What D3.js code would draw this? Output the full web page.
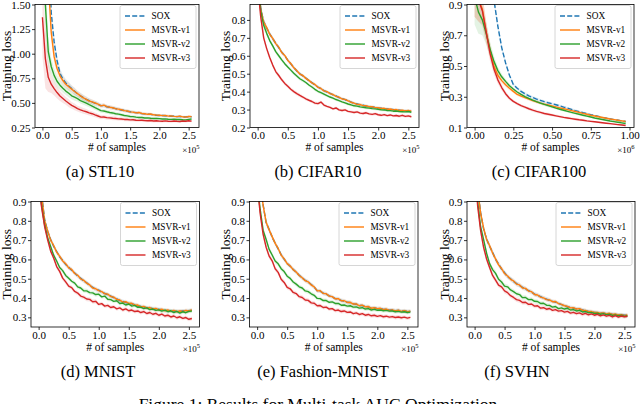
<!DOCTYPE html>
<html><head><meta charset="utf-8">
<script src="https://cdn.jsdelivr.net/npm/d3@7"></script>
<style>html,body{margin:0;padding:0;background:#fff;} svg{display:block;font-family:"Liberation Serif","Times New Roman",serif;}</style>
</head><body><svg id="chart" width="640" height="404"></svg>
<script>
// ---------------- DATA ----------------
const seriesNames = ["SOX", "MSVR-v1", "MSVR-v2", "MSVR-v3"];
const samplesE5 = [0,0.05,0.1,0.15,0.2,0.25,0.3,0.35,0.4,0.45,0.5,0.55,0.6,0.65,0.7,0.75,0.8,0.85,0.9,0.95,1,1.05,1.1,1.15,1.2,1.25,1.3,1.35,1.4,1.45,1.5,1.55,1.6,1.65,1.7,1.75,1.8,1.85,1.9,1.95,2,2.05,2.1,2.15,2.2,2.25,2.3,2.35,2.4,2.45,2.5,2.55];
const samplesE6 = [0,0.025,0.05,0.075,0.1,0.125,0.15,0.175,0.2,0.225,0.25,0.275,0.3,0.325,0.35,0.375,0.4,0.425,0.45,0.475,0.5,0.525,0.55,0.575,0.6,0.625,0.65,0.675,0.7,0.725,0.75,0.775,0.8,0.825,0.85,0.875,0.9,0.925,0.95,0.975];
const xTicksE5 = [0, 0.5, 1, 1.5, 2, 2.5];
const xTicksE6 = [0, 0.25, 0.5, 0.75, 1];
const yTicksStl10 = [0.25, 0.5, 0.75, 1, 1.25, 1.5];
const yTicksCifar10 = [0.2, 0.3, 0.4, 0.5, 0.6, 0.7, 0.8];
const yTicksCifar100 = [0.1, 0.3, 0.5, 0.7, 0.9];
const yTicksBottom = [0.3, 0.4, 0.5, 0.6, 0.7, 0.8, 0.9];
const captions = ["(a) STL10", "(b) CIFAR10", "(c) CIFAR100", "(d) MNIST", "(e) Fashion-MNIST", "(f) SVHN"];

// STL10
const stl10Sox = [3.2,2.8,2.2,1.42,1.12,0.93,0.8,0.742,0.702,0.672,0.645,0.618,0.592,0.572,0.553,0.535,0.522,0.508,0.497,0.486,0.472,0.473,0.461,0.456,0.449,0.442,0.435,0.428,0.423,0.415,0.41,0.404,0.401,0.398,0.391,0.388,0.386,0.383,0.378,0.374,0.372,0.372,0.369,0.367,0.365,0.364,0.361,0.362,0.357,0.358,0.36,0.358];
const stl10V1 = [3.0,2.4,1.75,1.22,0.97,0.85,0.775,0.727,0.69,0.664,0.64,0.616,0.594,0.571,0.551,0.536,0.519,0.511,0.499,0.488,0.47,0.477,0.462,0.456,0.451,0.441,0.437,0.43,0.421,0.418,0.409,0.406,0.399,0.402,0.393,0.39,0.384,0.387,0.379,0.376,0.374,0.371,0.373,0.366,0.368,0.363,0.36,0.365,0.358,0.356,0.362,0.36];
const stl10V2 = [2.6,1.5,1.02,0.87,0.78,0.72,0.68,0.648,0.62,0.598,0.572,0.558,0.543,0.524,0.511,0.497,0.482,0.468,0.452,0.437,0.421,0.418,0.41,0.403,0.398,0.39,0.386,0.379,0.372,0.368,0.362,0.361,0.356,0.352,0.351,0.347,0.348,0.344,0.341,0.343,0.34,0.337,0.338,0.334,0.333,0.335,0.331,0.332,0.329,0.327,0.333,0.336];
const stl10V3 = [1.37,0.95,0.76,0.69,0.645,0.605,0.57,0.545,0.52,0.497,0.475,0.46,0.442,0.43,0.419,0.41,0.398,0.39,0.378,0.367,0.355,0.357,0.35,0.348,0.344,0.342,0.338,0.336,0.332,0.331,0.327,0.329,0.324,0.322,0.324,0.32,0.318,0.321,0.316,0.318,0.315,0.313,0.317,0.314,0.312,0.316,0.313,0.311,0.316,0.314,0.318,0.315];
const spreadStl10 = [0.4,0.3,0.15,0.09,0.07,0.06,0.05,0.045,0.04,0.04,0.035,0.035,0.03,0.03,0.03,0.028,0.026,0.025,0.024,0.022,0.02,0.02,0.02,0.02,0.02,0.019,0.019,0.018,0.018,0.018,0.017,0.017,0.016,0.016,0.016,0.015,0.015,0.015,0.014,0.014,0.014,0.013,0.013,0.013,0.013,0.012,0.012,0.012,0.012,0.012,0.012,0.012];

// CIFAR10
const cifar10Sox = [1.12,0.865,0.79,0.755,0.722,0.695,0.67,0.645,0.62,0.6,0.576,0.555,0.535,0.515,0.5,0.488,0.476,0.461,0.45,0.437,0.426,0.416,0.406,0.398,0.391,0.382,0.376,0.367,0.361,0.355,0.35,0.342,0.334,0.331,0.326,0.324,0.319,0.318,0.314,0.313,0.308,0.308,0.304,0.304,0.3,0.3,0.296,0.297,0.294,0.294,0.292,0.292];
const cifar10V1 = [1.1,0.86,0.788,0.757,0.72,0.697,0.668,0.648,0.618,0.602,0.574,0.557,0.533,0.517,0.498,0.49,0.474,0.463,0.449,0.44,0.424,0.418,0.404,0.4,0.389,0.384,0.374,0.369,0.359,0.357,0.349,0.341,0.336,0.329,0.328,0.322,0.321,0.316,0.316,0.311,0.31,0.306,0.307,0.302,0.303,0.298,0.3,0.295,0.297,0.293,0.295,0.291];
const cifar10V2 = [1.05,0.85,0.77,0.725,0.685,0.655,0.623,0.6,0.577,0.556,0.537,0.52,0.502,0.487,0.472,0.462,0.451,0.437,0.426,0.413,0.402,0.394,0.386,0.378,0.37,0.364,0.356,0.35,0.343,0.337,0.331,0.326,0.321,0.319,0.315,0.313,0.31,0.308,0.305,0.304,0.301,0.299,0.298,0.295,0.294,0.291,0.292,0.289,0.288,0.287,0.289,0.285];
const cifar10V3 = [1.0,0.82,0.7,0.64,0.59,0.548,0.512,0.49,0.466,0.446,0.43,0.413,0.4,0.389,0.379,0.37,0.36,0.352,0.345,0.336,0.333,0.342,0.325,0.318,0.312,0.304,0.309,0.298,0.295,0.298,0.29,0.287,0.284,0.287,0.28,0.278,0.282,0.276,0.273,0.277,0.271,0.268,0.272,0.266,0.27,0.265,0.267,0.263,0.268,0.262,0.265,0.26];
const spreadCifar10 = [0.05,0.03,0.02,0.015,0.013,0.012,0.012,0.011,0.011,0.01,0.01,0.01,0.01,0.01,0.01,0.009,0.009,0.009,0.009,0.009,0.009,0.009,0.009,0.008,0.008,0.008,0.008,0.008,0.008,0.008,0.008,0.008,0.008,0.008,0.008,0.008,0.008,0.008,0.008,0.008,0.008,0.008,0.008,0.008,0.008,0.008,0.008,0.008,0.008,0.008,0.008,0.008];

// CIFAR100
const cifar100Sox = [1.6,1.5,1.4,1.25,1.1,0.93,0.76,0.62,0.52,0.44,0.38,0.355,0.335,0.32,0.306,0.295,0.285,0.276,0.268,0.261,0.255,0.248,0.241,0.233,0.226,0.218,0.21,0.203,0.196,0.19,0.183,0.177,0.172,0.166,0.161,0.156,0.151,0.147,0.143,0.139];
const cifar100V1 = [1.0,0.93,0.87,0.72,0.6,0.5,0.44,0.405,0.378,0.355,0.335,0.315,0.304,0.294,0.284,0.275,0.267,0.259,0.252,0.246,0.24,0.234,0.228,0.222,0.216,0.21,0.204,0.198,0.192,0.186,0.18,0.175,0.17,0.165,0.16,0.155,0.151,0.147,0.143,0.139];
const cifar100V2 = [0.95,0.85,0.8,0.71,0.61,0.53,0.47,0.43,0.4,0.372,0.35,0.331,0.315,0.301,0.289,0.278,0.268,0.259,0.25,0.242,0.234,0.226,0.219,0.212,0.205,0.198,0.192,0.186,0.18,0.174,0.168,0.162,0.157,0.152,0.147,0.142,0.138,0.134,0.13,0.126];
const cifar100V3 = [1.0,0.93,0.86,0.72,0.58,0.48,0.41,0.36,0.32,0.29,0.27,0.255,0.242,0.232,0.222,0.213,0.205,0.198,0.191,0.186,0.181,0.176,0.171,0.166,0.162,0.158,0.154,0.15,0.147,0.143,0.14,0.137,0.134,0.131,0.128,0.125,0.122,0.119,0.116,0.113];
const spreadCifar100 = [0.18,0.14,0.1,0.07,0.05,0.035,0.025,0.02,0.015,0.012,0.01,0.01,0.01,0.01,0.01,0.01,0.01,0.01,0.01,0.01,0.008,0.008,0.008,0.008,0.008,0.008,0.008,0.008,0.008,0.008,0.006,0.006,0.006,0.006,0.006,0.006,0.006,0.006,0.006,0.006];

// MNIST
const mnistSox = [1.12,0.935,0.805,0.745,0.703,0.668,0.641,0.613,0.595,0.574,0.559,0.544,0.53,0.514,0.502,0.489,0.479,0.465,0.455,0.445,0.441,0.43,0.424,0.417,0.41,0.402,0.396,0.387,0.382,0.377,0.374,0.37,0.365,0.36,0.356,0.353,0.35,0.348,0.345,0.343,0.341,0.339,0.336,0.335,0.333,0.333,0.331,0.331,0.333,0.333,0.335,0.336];
const mnistV1 = [1.1,0.93,0.8,0.748,0.7,0.672,0.638,0.617,0.592,0.578,0.556,0.548,0.527,0.518,0.499,0.492,0.477,0.468,0.452,0.448,0.438,0.433,0.422,0.42,0.408,0.405,0.393,0.39,0.379,0.381,0.372,0.373,0.363,0.364,0.354,0.357,0.348,0.351,0.343,0.346,0.339,0.342,0.334,0.338,0.331,0.336,0.329,0.333,0.331,0.336,0.333,0.338];
const mnistV2 = [1.0,0.88,0.78,0.712,0.667,0.622,0.592,0.558,0.542,0.517,0.503,0.487,0.477,0.458,0.452,0.438,0.437,0.428,0.427,0.418,0.42,0.406,0.41,0.394,0.392,0.383,0.386,0.372,0.374,0.364,0.369,0.358,0.362,0.352,0.353,0.345,0.349,0.34,0.343,0.336,0.339,0.332,0.337,0.329,0.334,0.325,0.331,0.322,0.329,0.324,0.331,0.333];
const mnistV3 = [1.0,0.87,0.77,0.702,0.643,0.607,0.563,0.538,0.503,0.484,0.462,0.454,0.434,0.426,0.41,0.405,0.395,0.393,0.381,0.383,0.367,0.371,0.358,0.362,0.351,0.355,0.344,0.349,0.338,0.344,0.334,0.338,0.33,0.333,0.325,0.33,0.32,0.325,0.316,0.321,0.311,0.317,0.307,0.311,0.302,0.307,0.298,0.303,0.295,0.299,0.29,0.294];
const spreadMnist = [0.05,0.03,0.02,0.016,0.014,0.013,0.012,0.012,0.012,0.012,0.011,0.011,0.011,0.011,0.011,0.011,0.011,0.011,0.011,0.011,0.01,0.01,0.01,0.01,0.01,0.01,0.01,0.01,0.01,0.01,0.01,0.01,0.01,0.01,0.01,0.01,0.01,0.01,0.01,0.01,0.01,0.01,0.01,0.01,0.01,0.01,0.01,0.01,0.01,0.01,0.01,0.01];

// Fashion-MNIST
const fashionSox = [1.22,1.0,0.882,0.79,0.755,0.716,0.684,0.655,0.624,0.601,0.579,0.565,0.548,0.534,0.518,0.504,0.492,0.482,0.47,0.457,0.438,0.436,0.425,0.42,0.411,0.406,0.397,0.395,0.387,0.384,0.378,0.376,0.37,0.368,0.361,0.361,0.355,0.354,0.348,0.349,0.345,0.345,0.341,0.341,0.337,0.338,0.334,0.336,0.332,0.333,0.33,0.331];
const fashionV1 = [1.2,1.0,0.88,0.792,0.753,0.718,0.683,0.657,0.622,0.603,0.578,0.566,0.547,0.535,0.517,0.505,0.49,0.484,0.468,0.458,0.437,0.438,0.424,0.422,0.41,0.407,0.396,0.397,0.386,0.386,0.377,0.378,0.369,0.37,0.36,0.363,0.354,0.356,0.347,0.35,0.345,0.347,0.34,0.343,0.336,0.339,0.333,0.337,0.331,0.334,0.329,0.332];
const fashionV2 = [1.0,0.86,0.75,0.703,0.652,0.623,0.592,0.577,0.552,0.537,0.513,0.502,0.483,0.472,0.458,0.452,0.437,0.433,0.422,0.414,0.398,0.397,0.387,0.387,0.378,0.38,0.372,0.372,0.363,0.364,0.358,0.36,0.353,0.354,0.348,0.35,0.343,0.345,0.338,0.341,0.337,0.338,0.334,0.336,0.332,0.333,0.329,0.331,0.327,0.329,0.325,0.327];
const fashionV3 = [1.0,0.84,0.73,0.663,0.617,0.593,0.552,0.533,0.497,0.481,0.455,0.448,0.429,0.423,0.407,0.403,0.39,0.388,0.375,0.373,0.36,0.361,0.351,0.353,0.343,0.345,0.335,0.338,0.33,0.333,0.326,0.328,0.319,0.323,0.315,0.319,0.311,0.315,0.308,0.311,0.305,0.309,0.303,0.306,0.301,0.304,0.299,0.302,0.298,0.301,0.296,0.3];
const spreadFashion = [0.05,0.03,0.02,0.016,0.014,0.013,0.012,0.012,0.012,0.012,0.011,0.011,0.011,0.011,0.011,0.011,0.011,0.011,0.011,0.011,0.01,0.01,0.01,0.01,0.01,0.01,0.01,0.01,0.01,0.01,0.01,0.01,0.01,0.01,0.01,0.01,0.01,0.01,0.01,0.01,0.01,0.01,0.01,0.01,0.01,0.01,0.01,0.01,0.01,0.01,0.01,0.01];

// SVHN
const svhnSox = [1.22,0.975,0.842,0.758,0.706,0.668,0.637,0.6,0.576,0.55,0.531,0.511,0.5,0.486,0.475,0.465,0.455,0.447,0.439,0.431,0.42,0.414,0.407,0.399,0.394,0.388,0.383,0.379,0.373,0.366,0.361,0.355,0.351,0.348,0.344,0.343,0.338,0.334,0.331,0.328,0.326,0.324,0.322,0.321,0.319,0.318,0.316,0.315,0.313,0.312,0.311,0.31];
const svhnV1 = [1.2,0.97,0.84,0.762,0.703,0.672,0.633,0.603,0.572,0.553,0.527,0.514,0.497,0.489,0.472,0.468,0.452,0.45,0.436,0.433,0.418,0.416,0.405,0.401,0.392,0.39,0.381,0.382,0.371,0.367,0.36,0.357,0.349,0.35,0.343,0.345,0.337,0.336,0.329,0.33,0.325,0.326,0.321,0.323,0.318,0.321,0.315,0.317,0.312,0.314,0.309,0.312];
const svhnV2 = [1.1,0.9,0.77,0.703,0.632,0.578,0.547,0.528,0.497,0.483,0.462,0.458,0.442,0.433,0.422,0.418,0.402,0.403,0.392,0.393,0.383,0.382,0.372,0.373,0.363,0.362,0.353,0.356,0.345,0.349,0.343,0.347,0.338,0.34,0.333,0.336,0.328,0.33,0.324,0.326,0.32,0.322,0.316,0.319,0.314,0.316,0.31,0.313,0.308,0.311,0.305,0.308];
const svhnV3 = [1.1,0.88,0.75,0.663,0.602,0.558,0.517,0.493,0.467,0.458,0.437,0.428,0.412,0.403,0.392,0.388,0.377,0.378,0.367,0.369,0.358,0.36,0.348,0.35,0.342,0.346,0.336,0.34,0.332,0.335,0.327,0.331,0.322,0.326,0.319,0.323,0.315,0.321,0.313,0.318,0.311,0.316,0.308,0.313,0.306,0.31,0.302,0.309,0.301,0.307,0.303,0.306];
const spreadSvhn = [0.05,0.035,0.025,0.02,0.016,0.015,0.014,0.014,0.013,0.013,0.013,0.012,0.012,0.012,0.012,0.012,0.012,0.011,0.011,0.011,0.011,0.011,0.011,0.011,0.011,0.011,0.01,0.01,0.01,0.01,0.01,0.01,0.01,0.01,0.01,0.01,0.01,0.01,0.01,0.01,0.01,0.01,0.01,0.01,0.01,0.01,0.01,0.01,0.01,0.01,0.01,0.01];

// ---------------- DRAWING ----------------
const COLORS = ["#1f77b4", "#ff7f0e", "#2ca02c", "#d62728"];
const svg = d3.select("#chart");
const defs = svg.append("defs");

const fmt1 = d3.format(".1f"), fmt2 = d3.format(".2f");
const E5DOM = [-0.127, 2.677], E6DOM = [-0.049, 1.029];

const panels = [
  {xs: samplesE5, series: [stl10Sox, stl10V1, stl10V2, stl10V3], spread: spreadStl10, xDom: E5DOM, yDom: [0.25, 1.5], xTicks: xTicksE5, yTicks: yTicksStl10, xFmt: fmt1, yFmt: fmt2, exp: "5", rect: [35, 4.5, 199, 127.5], ylabX: 11, capX: 100},
  {xs: samplesE5, series: [cifar10Sox, cifar10V1, cifar10V2, cifar10V3], spread: spreadCifar10, xDom: E5DOM, yDom: [0.2, 0.886], xTicks: xTicksE5, yTicks: yTicksCifar10, xFmt: fmt1, yFmt: fmt1, exp: "5", rect: [250, 4.5, 419, 127.5], ylabX: 229.5, capX: 318},
  {xs: samplesE6, series: [cifar100Sox, cifar100V1, cifar100V2, cifar100V3], spread: spreadCifar100, xDom: E6DOM, yDom: [0.1, 0.9], xTicks: xTicksE6, yTicks: yTicksCifar100, xFmt: fmt2, yFmt: fmt1, exp: "6", rect: [467, 4.5, 634, 127.5], ylabX: 449, capX: 539},
  {xs: samplesE5, series: [mnistSox, mnistV1, mnistV2, mnistV3], spread: spreadMnist, xDom: E5DOM, yDom: [0.25, 0.9], xTicks: xTicksE5, yTicks: yTicksBottom, xFmt: fmt1, yFmt: fmt1, exp: "5", rect: [31, 201.5, 199.5, 327], ylabX: 11, capX: 98},
  {xs: samplesE5, series: [fashionSox, fashionV1, fashionV2, fashionV3], spread: spreadFashion, xDom: E5DOM, yDom: [0.25, 0.9], xTicks: xTicksE5, yTicks: yTicksBottom, xFmt: fmt1, yFmt: fmt1, exp: "5", rect: [249.5, 201.5, 418, 327], ylabX: 229.5, capX: 323},
  {xs: samplesE5, series: [svhnSox, svhnV1, svhnV2, svhnV3], spread: spreadSvhn, xDom: E5DOM, yDom: [0.25, 0.9], xTicks: xTicksE5, yTicks: yTicksBottom, xFmt: fmt1, yFmt: fmt1, exp: "5", rect: [467, 201.5, 635, 327], ylabX: 449, capX: 517}
];

panels.forEach((p, idx) => {
  const [x0, y0, x1, y1] = p.rect;
  const x = d3.scaleLinear().domain(p.xDom).range([x0, x1]);
  const y = d3.scaleLinear().domain(p.yDom).range([y1, y0]);
  const g = svg.append("g");
  const clipId = "clip" + idx;
  defs.append("clipPath").attr("id", clipId).append("rect")
    .attr("x", x0).attr("y", y0).attr("width", x1 - x0).attr("height", y1 - y0);
  const plot = g.append("g").attr("clip-path", `url(#${clipId})`);

  // bands
  p.series.forEach((ys, k) => {
    const pts = d3.zip(p.xs, ys, p.spread);
    plot.append("path").datum(pts)
      .attr("fill", COLORS[k]).attr("fill-opacity", 0.13).attr("stroke", "none")
      .attr("d", d3.area().x(d => x(d[0])).y0(d => y(d[1] - d[2])).y1(d => y(d[1] + d[2])));
  });
  // lines
  p.series.forEach((ys, k) => {
    const pts = d3.zip(p.xs, ys);
    plot.append("path").datum(pts)
      .attr("fill", "none").attr("stroke", COLORS[k]).attr("stroke-width", 1.4)
      .attr("stroke-linejoin", "round")
      .attr("stroke-dasharray", k === 0 ? "5,2.2" : null)
      .attr("d", d3.line().x(d => x(d[0])).y(d => y(d[1])));
  });

  // axes
  const xa = g.append("g").attr("transform", `translate(0,${y1})`)
    .call(d3.axisBottom(x).tickValues(p.xTicks).tickFormat(p.xFmt).tickSize(3).tickPadding(1));
  const ya = g.append("g").attr("transform", `translate(${x0},0)`)
    .call(d3.axisLeft(y).tickValues(p.yTicks).tickFormat(p.yFmt).tickSize(3).tickPadding(1.5));
  [xa, ya].forEach(a => {
    a.select(".domain").remove();
    a.selectAll("line").attr("stroke", "#000").attr("stroke-width", 0.8);
    a.selectAll("text").attr("fill", "#000").style("font-size", "11px")
      .style("font-family", '"Liberation Serif","Times New Roman",serif');
  });

  // frame
  g.append("rect").attr("x", x0).attr("y", y0).attr("width", x1 - x0).attr("height", y1 - y0)
    .attr("fill", "none").attr("stroke", "#000").attr("stroke-width", 0.8);

  // axis labels
  g.append("text").attr("x", (x0 + x1) / 2).attr("y", y1 + 23.5)
    .attr("text-anchor", "middle").style("font-size", "11.5px").text("# of samples");
  g.append("text").attr("transform", `translate(${p.ylabX},${(y0 + y1) / 2}) rotate(-90)`)
    .attr("text-anchor", "middle").style("font-size", "13.5px").text("Training loss");
  const off = g.append("text").attr("x", x1 + 0.5).attr("y", y1 + 25)
    .attr("text-anchor", "end").style("font-size", "9px");
  off.append("tspan").text("\u00d710");
  off.append("tspan").attr("dy", -4).style("font-size", "6.5px").text(p.exp);

  // legend
  const lw = 76, lh = 63;
  const lg = g.append("g").attr("transform", `translate(${x1 - 3 - lw},${y0 + 1})`);
  lg.append("rect").attr("width", lw).attr("height", lh).attr("rx", 2)
    .attr("fill", "#fff").attr("fill-opacity", 0.8).attr("stroke", "#ccc").attr("stroke-width", 0.8);
  seriesNames.forEach((n, k) => {
    const yy = 10.5 + k * 14;
    lg.append("line").attr("x1", 5).attr("x2", 25).attr("y1", yy).attr("y2", yy)
      .attr("stroke", COLORS[k]).attr("stroke-width", 1.4)
      .attr("stroke-dasharray", k === 0 ? "5,2.2" : null);
    lg.append("text").attr("x", 31.5).attr("y", yy).attr("dy", "0.33em")
      .style("font-size", "9.3px").attr("fill", "#000").text(n);
  });

  // caption
  svg.append("text").attr("x", p.capX).attr("y", y1 + 49.5)
    .attr("text-anchor", "middle").style("font-size", "16.5px").text(captions[idx]);
});

svg.append("text").attr("x", 318).attr("y", 410).attr("text-anchor", "middle")
  .style("font-size", "17.5px").text("Figure 1: Results for Multi-task AUC Optimization");
</script>
</body></html>
